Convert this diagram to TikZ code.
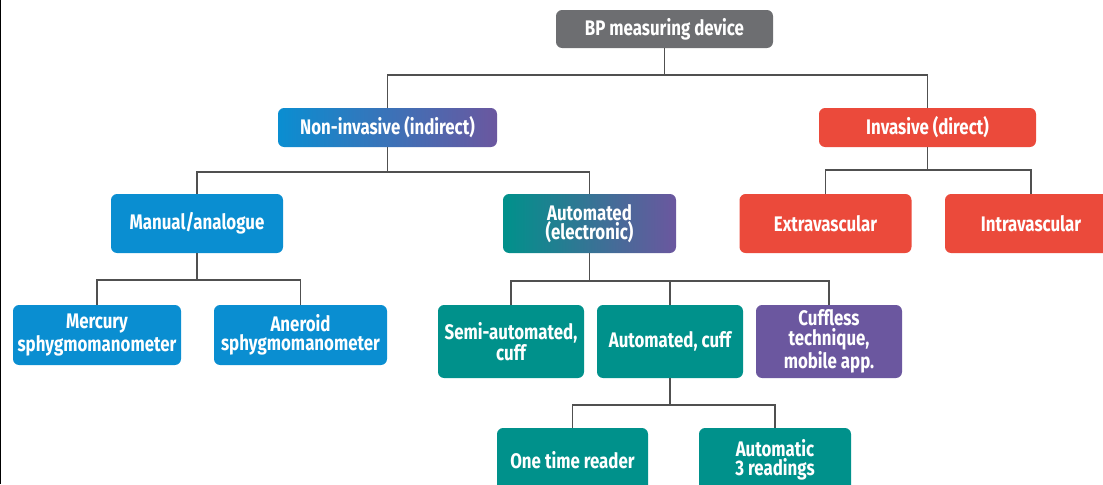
\documentclass[tikz,border=0pt]{standalone}
\usepackage{fontspec}
\setmainfont{Fira Sans}[FakeStretch=0.8]
\usepackage{tikz}
\usetikzlibrary{positioning}
\definecolor{bpgray}{HTML}{6D6E71}
\definecolor{bpblue}{HTML}{0A8ED1}
\definecolor{bpteal}{HTML}{00918B}
\definecolor{bpmint}{HTML}{20B3A2}
\definecolor{bpdusk}{HTML}{2D7C9C}
\definecolor{bppurple}{HTML}{6B579F}
\definecolor{bpred}{HTML}{EB4A3B}
\definecolor{bpline}{HTML}{505050}
\tikzset{box/.style = {rounded corners = 3.5pt, text = white, align = center, inner sep = 0,
    font = \bfseries\fontsize{12}{11}\selectfont}}
\tikzset{conn/.style = {draw = bpline, line width = 1.1pt}}

\begin{document}
\begin{tikzpicture}[x=0.02cm, y=-0.02cm]
    \useasboundingbox (0,0) rectangle (1103,484);
    \draw[line width = 0.04cm] (0.5,0) -- (0.5,484);
    % level 0 and 1
    \node[box, fill = bpgray, minimum width = 217*0.02cm, minimum height = 38*0.02cm] (bp) at (664.5,29) {BP measuring device};
    \node[box, left color = bpblue, middle color = bpmint, right color = bppurple, minimum width = 219*0.02cm, minimum height = 39*0.02cm] (noninv) at (387.5,127.5) {Non-invasive (indirect)};
    \node[box, fill = bpred, minimum width = 217*0.02cm, minimum height = 39*0.02cm] (inv) at (927.5,127.5) {Invasive (direct)};
    % level 2
    \node[box, fill = bpblue, minimum width = 172*0.02cm, minimum height = 59*0.02cm] (manual) at (197,223.5) {Manual/analogue};
    \node[box, left color = bpteal, middle color = bpdusk, right color = bppurple, minimum width = 173*0.02cm, minimum height = 59*0.02cm] (autoel) at (589.5,223.5) {Automated\\(electronic)};
    \node[box, fill = bpred, minimum width = 172*0.02cm, minimum height = 59*0.02cm] (extra) at (825.5,223.5) {Extravascular};
    \node[box, fill = bpred, minimum width = 172*0.02cm, minimum height = 59*0.02cm] (intra) at (1031,223.5) {Intravascular};
    % level 3
    \node[box, fill = bpblue, minimum width = 168*0.02cm, minimum height = 60*0.02cm] (mercury) at (97,335) {Mercury\\sphygmomanometer};
    \node[box, fill = bpblue, minimum width = 173*0.02cm, minimum height = 60*0.02cm] (aneroid) at (300.5,335) {Aneroid\\sphygmomanometer};
    \node[box, fill = bpteal, minimum width = 146*0.02cm, minimum height = 73*0.02cm] (semi) at (511,341.5) {Semi-automated,\\cuff};
    \node[box, fill = bpteal, minimum width = 146*0.02cm, minimum height = 73*0.02cm] (autocuff) at (670,341.5) {Automated, cuff};
    \node[box, fill = bppurple, minimum width = 146*0.02cm, minimum height = 73*0.02cm] (cuffless) at (829,341.5) {Cuffless\\technique,\\mobile app.};
    % level 4
    \node[box, fill = bpteal, minimum width = 151*0.02cm, minimum height = 64*0.02cm] (onetime) at (572.5,460) {One time reader};
    \node[box, fill = bpteal, minimum width = 152*0.02cm, minimum height = 64*0.02cm] (auto3) at (775,460) {Automatic\\3 readings};
    % connectors
    \draw[conn] (bp.south) -- ++(0,27) coordinate (j1);
    \draw[conn] (noninv.north) |- (j1) -| (inv.north);
    \draw[conn] (noninv.south) -- ++(0,25) coordinate (j2);
    \draw[conn] (manual.north) |- (j2) -| (autoel.north);
    \draw[conn] (inv.south) -- ++(0,23) coordinate (j3);
    \draw[conn] (extra.north) |- (j3) -| (intra.north);
    \draw[conn] (manual.south) -- ++(0,27) coordinate (j4);
    \draw[conn] (mercury.north) |- (j4) -| (aneroid.north);
    \draw[conn] (autoel.south) -- ++(0,28) coordinate (j5);
    \draw[conn] (semi.north) |- (j5) -| (cuffless.north);
    \draw[conn] (j5) -| (autocuff.north);
    \draw[conn] (autocuff.south) -- ++(0,27) coordinate (j6);
    \draw[conn] (onetime.north) |- (j6) -| (auto3.north);
  \end{tikzpicture}
\end{document}
